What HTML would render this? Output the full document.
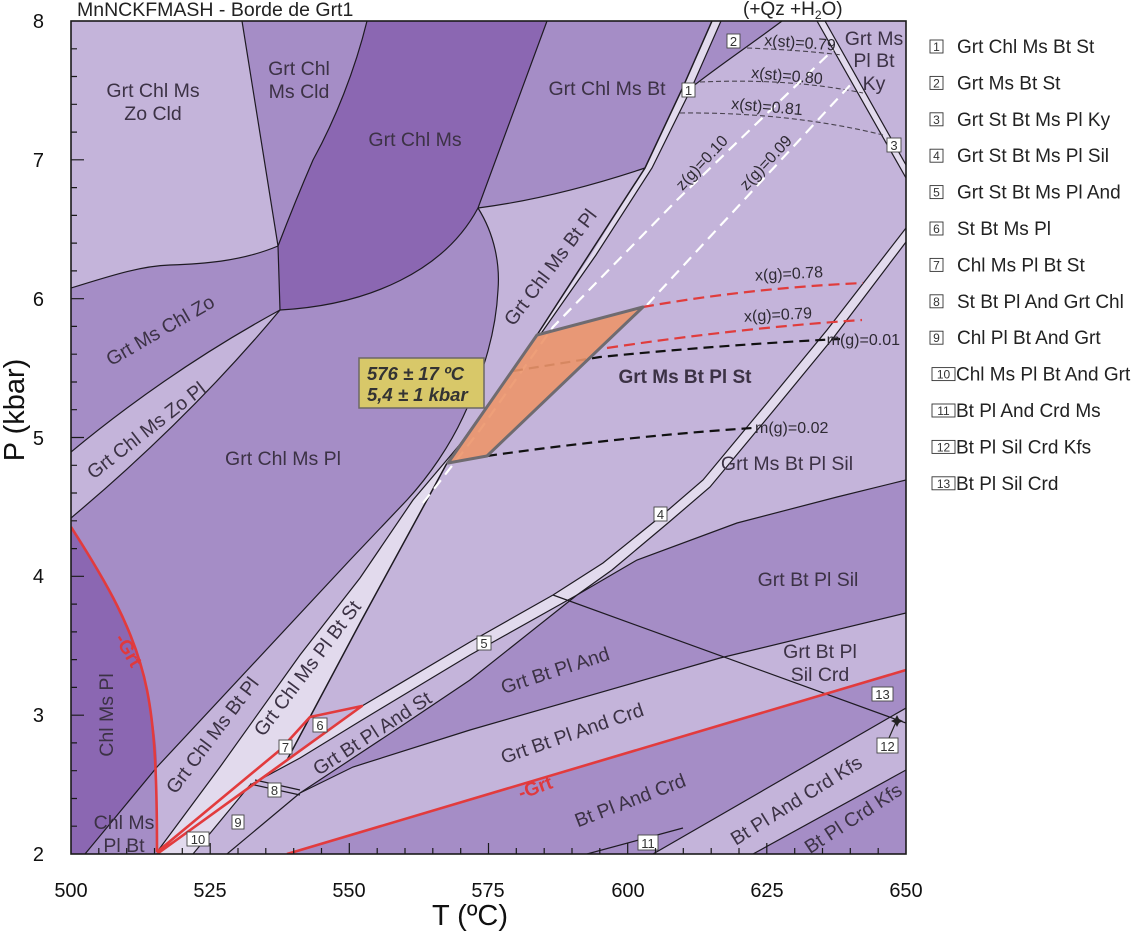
<!DOCTYPE html>
<html><head><meta charset="utf-8"><style>html,body{margin:0;padding:0;background:#fff}svg{display:block}</style></head>
<body>
<svg width="1141" height="931" viewBox="0 0 1141 931" xmlns="http://www.w3.org/2000/svg" font-family="'Liberation Sans', Arial, sans-serif">
<defs><clipPath id="pc"><rect x="71" y="21" width="835" height="833"/></clipPath></defs>
<rect width="1141" height="931" fill="#fff"/>
<g clip-path="url(#pc)">
<rect x="71" y="21" width="835" height="833" fill="#c4b4da"/>
<!-- medium / dark regions -->
<path fill="#a58dc6" d="M242,21 L367,21 C355,70 335,120 313,160 C300,190 288,220 278,246 Z"/>
<path fill="#8b67b2" d="M367,21 L547,21 L478,208 C445,270 370,305 280,310 L278,246 C288,220 300,190 313,160 C335,120 355,70 367,21 Z"/>
<path fill="#a58dc6" d="M547,21 L712,21 L683,87 L645,168 Q555,198 478,208 Z"/>
<path fill="#a58dc6" d="M721,21 L782,21 C750,45 720,65 692,87 Z"/>
<path fill="#a58dc6" d="M71,288 C110,276 140,266 170,265 S240,262 278,246 L280,310 Q170,370 71,452 Z"/>
<path fill="#a58dc6" d="M71,518 Q190,418 280,310 C370,305 445,270 478,208 C495,235 500,265 498,290 C496,330 485,370 463,417 C450,445 430,475 407,500 L350,560 L157,767 L157,854 L71,854 Z"/>
<path fill="#8b67b2" d="M71,527 C105,580 135,630 147,690 C154,725 157,745 157,767 L85,854 L71,854 Z"/>
<path fill="#a58dc6" d="M300,793 L400,727 L470,680 L577,595 L637,560 L737,523 L837,497 L906,480 L906,613 L720,658 L470,730 L353,767 Z"/>
<path fill="#a58dc6" d="M287,854 L906,670 L906,708 L653,854 Z"/>
<path fill="#a58dc6" d="M753,854 L906,770 L906,854 Z"/>
<!-- very light bands -->
<g fill="#e2daed">
<path d="M157,852 L220,767 L300,655 L360,578 L413,500 L462,442 L447,463 L427,500 L360,623 L310,717 L280,750 Z"/>
<path d="M157,852 L280,750 L310,717 L287,760 L157,854 Z"/>
<path d="M157,854 L250,785 L193,854 Z"/>
<path d="M553,595 L470,642 L362,706 L250,785 L300,758 L362,720 L470,655 L577,595 Z"/>
<path d="M712,21 L721,21 L692,87 L652,168 L596,255 L540,335 L537,335 L591,255 L645,168 L683,87 Z"/>
<path d="M817,21 L825,21 L906,165 L906,178 Z"/>
<path d="M553,595 L603,563 L660,517 L703,480 L767,403 L827,330 L906,228 L906,242 L834,337 L774,410 L710,487 L668,523 L612,570 L577,595 Z"/>
</g>
<!-- boundaries -->
<g fill="none" stroke="#1e1a22" stroke-width="1.2">
<path d="M242,21 L278,246"/>
<path d="M71,288 C110,276 140,266 170,265 S240,262 278,246"/>
<path d="M367,21 C355,70 335,120 313,160 C300,190 288,220 278,246 L280,310"/>
<path d="M280,310 C370,305 445,270 478,208 L547,21"/>
<path d="M478,208 Q555,198 645,168"/>
<path d="M478,208 C495,235 500,265 498,290 C496,330 485,370 463,417 C450,445 430,475 407,500 L350,560 L157,767 L85,854"/>
<path d="M280,310 Q170,370 71,452"/>
<path d="M280,310 Q190,418 71,518"/>
<path d="M157,852 L220,767 L300,655 L360,578 L413,500 L462,442"/>
<path d="M712,21 L683,87 L645,168 L537,335 L447,463 L427,500 L360,623 L310,717 L287,760" stroke-width="1.5"/>
<path d="M721,21 L692,87 L652,168 L596,255 L540,335"/>
<path d="M692,87 C720,65 750,45 782,21"/>
<path d="M817,21 L906,178 M825,21 L906,165"/>
<path d="M553,595 L603,563 L660,517 L703,480 L767,403 L827,330 L906,228"/>
<path d="M577,595 L612,570 L668,523 L710,487 L774,410 L834,337 L906,242"/>
<path d="M553,595 L470,642 L362,706"/>
<path d="M577,595 L470,655 L362,720 L300,758 L250,785"/>
<path d="M300,793 L400,727 L470,680 L577,595"/>
<path d="M577,595 L637,560 L737,523 L837,497 L906,480"/>
<path d="M553,595 L906,723"/>
<path d="M300,793 L353,767 L470,730 L720,658 L906,613"/>
<path d="M653,854 L906,708"/>
<path d="M753,854 L906,770"/>
<path d="M587,854 L683,828"/>
<path d="M227,854 L300,793"/>
<path d="M193,854 L250,785"/>
<path d="M250,784 L300,795 M255,780 L300,790"/>
</g>
<!-- dashed isopleths -->
<g fill="none" stroke="#4a4450" stroke-width="1.1" stroke-dasharray="5,3">
<path d="M747,48 Q800,50 842,55"/>
<path d="M700,82 Q790,78 863,93"/>
<path d="M680,113 Q790,112 883,135"/>
</g>
<g fill="none" stroke="#ffffff" stroke-width="2.2" stroke-dasharray="11,7">
<path d="M423,503 L480,430 L553,327 L677,200 L833,50"/>
<path d="M647,305 L853,82"/>
</g>
<g fill="none" stroke="#e03c3c" stroke-width="2.2" stroke-dasharray="11,6">
<path d="M643,307 Q750,288 863,283"/>
<path d="M607,348 Q740,328 862,320"/>
</g>
<g fill="none" stroke="#111" stroke-width="2.2" stroke-dasharray="10,6">
<path d="M513,371 L600,357 Q720,345 840,339"/>
<path d="M487,456 Q620,437 752,428"/>
</g>
<!-- estimate polygon -->
<path d="M448,463 L487,456 L643,307 L537,335 Z" fill="#ec956a" fill-opacity="0.9" stroke="#6f6b70" stroke-width="3" stroke-linejoin="round"/>
<!-- red lines -->
<g fill="none" stroke="#e23b3d" stroke-width="2.6" stroke-linejoin="round">
<path d="M71,527 C105,580 135,630 147,690 C154,725 157,767 157,852"/>
<path d="M157,852 L280,750 L310,717 L362,706 L157,854"/>
<path d="M287,854 L906,670"/>
</g>
<!-- star + arrow for 12 -->
<path d="M889,738 L896,722" stroke="#222" stroke-width="1.2"/>
<path d="M897,715 L899,719 L903,721 L899,723 L897,727 L895,723 L891,721 L895,719 Z" fill="#222"/>
</g>

<!-- annotation box -->
<rect x="359" y="358" width="125" height="50" fill="#d8c869" stroke="#6d6866" stroke-width="1.5"/>
<g font-size="18.5" font-weight="bold" font-style="italic" fill="#333">
<text x="367" y="380">576 ± 17 ºC</text>
<text x="367" y="401">5,4 ± 1 kbar</text>
</g>

<!-- field labels -->
<g font-size="19.5" fill="#3c3245" text-anchor="middle">
<text x="153" y="97">Grt Chl Ms</text><text x="153" y="120">Zo Cld</text>
<text x="299" y="75">Grt Chl</text><text x="299" y="98">Ms Cld</text>
<text x="415" y="146">Grt Chl Ms</text>
<text x="607" y="95">Grt Chl Ms Bt</text>
<text x="874" y="45">Grt Ms</text><text x="874" y="67">Pl Bt</text><text x="874" y="90">Ky</text>
<text transform="translate(160,330) rotate(-30)" dy="7">Grt Ms Chl Zo</text>
<text transform="translate(146,430) rotate(-38)" dy="7">Grt Chl Ms Zo Pl</text>
<text x="283" y="465">Grt Chl Ms Pl</text>
<text transform="translate(106,715) rotate(-90)" dy="7">Chl Ms Pl</text>
<text x="124" y="829">Chl Ms</text><text x="124" y="852">Pl Bt</text>
<text transform="translate(212,735) rotate(-53)" dy="7">Grt Chl Ms Bt Pl</text>
<text transform="translate(307,668) rotate(-53)" dy="7">Grt Chl Ms Pl Bt St</text>
<text transform="translate(372,733) rotate(-33)" dy="7">Grt Bt Pl And St</text>
<text transform="translate(550,267) rotate(-53)" dy="7">Grt Chl Ms Bt Pl</text>
<text x="685" y="383" font-weight="bold" font-size="19">Grt Ms Bt Pl St</text>
<text x="787" y="470">Grt Ms Bt Pl Sil</text>
<text x="808" y="586">Grt Bt Pl Sil</text>
<text x="820" y="658">Grt Bt Pl</text><text x="820" y="681">Sil Crd</text>
<text transform="translate(555,670) rotate(-18)" dy="7">Grt Bt Pl And</text>
<text transform="translate(572,733) rotate(-19)" dy="7">Grt Bt Pl And Crd</text>
<text transform="translate(630,800) rotate(-21)" dy="7">Bt Pl And Crd</text>
<text transform="translate(796,800) rotate(-32)" dy="7">Bt Pl And Crd Kfs</text>
<text transform="translate(853,818) rotate(-33)" dy="7">Bt Pl Crd Kfs</text>
</g>
<g font-size="19" font-weight="bold" fill="#e0393d" text-anchor="middle">
<text transform="translate(129,650) rotate(60)" dy="7">-Grt</text>
<text transform="translate(535,787) rotate(-20)" dy="7">-Grt</text>
</g>
<!-- isopleth labels -->
<g font-size="16" fill="#2e2a33" text-anchor="middle">
<text transform="translate(800,43) rotate(4)" dy="5">x(st)=0.79</text>
<text transform="translate(787,76) rotate(5)" dy="5">x(st)=0.80</text>
<text transform="translate(767,107) rotate(5)" dy="5">x(st)=0.81</text>
<text transform="translate(702,163) rotate(-47)" dy="5">z(g)=0.10</text>
<text transform="translate(766,163) rotate(-47)" dy="5">z(g)=0.09</text>
<text transform="translate(789,274) rotate(-3)" dy="5">x(g)=0.78</text>
<text transform="translate(778,315) rotate(-3)" dy="5">x(g)=0.79</text>
<text x="900" y="345" text-anchor="end">m(g)=0.01</text>
<text x="755" y="433" text-anchor="start">m(g)=0.02</text>
</g>
<!-- number boxes -->
<g font-size="13" fill="#333" text-anchor="middle">
<g stroke="#444" stroke-width="0.9" fill="#fff">
<rect x="682" y="83" width="13" height="14"/>
<rect x="727" y="34" width="13" height="14"/>
<rect x="887" y="138" width="14" height="14"/>
<rect x="654" y="507" width="13" height="14"/>
<rect x="477" y="636" width="14" height="14"/>
<rect x="313" y="718" width="14" height="14"/>
<rect x="279" y="740" width="13" height="14"/>
<rect x="268" y="783" width="13" height="14"/>
<rect x="232" y="815" width="12" height="14"/>
<rect x="187" y="832" width="22" height="14"/>
<rect x="638" y="835" width="20" height="15"/>
<rect x="877" y="738" width="21" height="15"/>
<rect x="872" y="687" width="21" height="14"/>
</g>
<text x="688.5" y="95">1</text>
<text x="733.5" y="46">2</text>
<text x="894" y="150">3</text>
<text x="660.5" y="519">4</text>
<text x="484" y="648">5</text>
<text x="320" y="730">6</text>
<text x="285.5" y="752">7</text>
<text x="274.5" y="795">8</text>
<text x="238" y="827">9</text>
<text x="198" y="844">10</text>
<text x="648" y="848">11</text>
<text x="887.5" y="751">12</text>
<text x="882.5" y="699">13</text>
</g>

<!-- frame and ticks -->
<rect x="71" y="21" width="835" height="833" fill="none" stroke="#1a1a1a" stroke-width="1.6"/>
<path fill="none" stroke="#1a1a1a" stroke-width="1.2" d="
M71,826.2h6 M71,798.5h6 M71,770.7h6 M71,742.9h6 M71,715.2h13
M71,687.4h6 M71,659.6h6 M71,631.9h6 M71,604.1h6 M71,576.3h13
M71,548.6h6 M71,520.8h6 M71,493h6 M71,465.3h6 M71,437.5h13
M71,409.7h6 M71,382h6 M71,354.2h6 M71,326.4h6 M71,298.7h13
M71,270.9h6 M71,243.1h6 M71,215.4h6 M71,187.6h6 M71,159.8h13
M71,132.1h6 M71,104.3h6 M71,76.5h6 M71,48.8h6
M98.8,854v-6 M126.7,854v-6 M154.5,854v-6 M182.3,854v-6 M210.2,854v-11
M238,854v-6 M265.8,854v-6 M293.7,854v-6 M321.5,854v-6 M349.3,854v-11
M377.2,854v-6 M405,854v-6 M432.8,854v-6 M460.7,854v-6 M488.5,854v-11
M516.3,854v-6 M544.2,854v-6 M572,854v-6 M599.8,854v-6 M627.7,854v-11
M655.5,854v-6 M683.3,854v-6 M711.2,854v-6 M739,854v-6 M766.8,854v-11
M794.7,854v-6 M822.5,854v-6 M850.3,854v-6 M878.2,854v-6"/>
<g font-size="20" fill="#111" text-anchor="end">
<text x="44" y="28">8</text>
<text x="44" y="167">7</text>
<text x="44" y="306">6</text>
<text x="44" y="445">5</text>
<text x="44" y="583">4</text>
<text x="44" y="722">3</text>
<text x="44" y="861">2</text>
</g>
<g font-size="20" fill="#111" text-anchor="middle">
<text x="71" y="897">500</text>
<text x="210" y="897">525</text>
<text x="349" y="897">550</text>
<text x="488" y="897">575</text>
<text x="628" y="897">600</text>
<text x="767" y="897">625</text>
<text x="906" y="897">650</text>
</g>
<text x="470" y="925" font-size="29" fill="#111" text-anchor="middle">T (ºC)</text>
<text transform="translate(24,410) rotate(-90)" font-size="29" fill="#111" text-anchor="middle">P (kbar)</text>
<text x="77" y="16" font-size="19.5" fill="#222">MnNCKFMASH - Borde de Grt1</text>
<text x="743" y="15" font-size="19" fill="#222">(+Qz +H<tspan font-size="12" dy="4">2</tspan><tspan dy="-4">O)</tspan></text>

<!-- legend -->
<g font-size="19" fill="#222">
<g stroke="#333" stroke-width="0.9" fill="#fff">
<rect x="930" y="40" width="13" height="13"/>
<rect x="930" y="76.4" width="13" height="13"/>
<rect x="930" y="112.8" width="13" height="13"/>
<rect x="930" y="149.2" width="13" height="13"/>
<rect x="930" y="185.6" width="13" height="13"/>
<rect x="930" y="222" width="13" height="13"/>
<rect x="930" y="258.4" width="13" height="13"/>
<rect x="930" y="294.8" width="13" height="13"/>
<rect x="930" y="331.2" width="13" height="13"/>
<rect x="932" y="367.6" width="23" height="13"/>
<rect x="932" y="404" width="23" height="13"/>
<rect x="932" y="440.4" width="23" height="13"/>
<rect x="932" y="476.8" width="23" height="13"/>
</g>
<g font-size="12" fill="#333" text-anchor="middle">
<text x="936.5" y="51">1</text><text x="936.5" y="87.4">2</text><text x="936.5" y="123.8">3</text>
<text x="936.5" y="160.2">4</text><text x="936.5" y="196.6">5</text><text x="936.5" y="233">6</text>
<text x="936.5" y="269.4">7</text><text x="936.5" y="305.8">8</text><text x="936.5" y="342.2">9</text>
<text x="943.5" y="378.6">10</text><text x="943.5" y="415">11</text><text x="943.5" y="451.4">12</text><text x="943.5" y="487.8">13</text>
</g>
<text x="957" y="53">Grt Chl Ms Bt St</text>
<text x="957" y="89.4">Grt Ms Bt St</text>
<text x="957" y="125.8">Grt St Bt Ms Pl Ky</text>
<text x="957" y="162.2">Grt St Bt Ms Pl Sil</text>
<text x="957" y="198.6">Grt St Bt Ms Pl And</text>
<text x="957" y="235">St Bt Ms Pl</text>
<text x="957" y="271.4">Chl Ms Pl Bt St</text>
<text x="957" y="307.8">St Bt Pl And Grt Chl</text>
<text x="957" y="344.2">Chl Pl Bt And Grt</text>
<text x="956" y="380.6">Chl Ms Pl Bt And Grt</text>
<text x="956" y="417">Bt Pl And Crd Ms</text>
<text x="956" y="453.4">Bt Pl Sil Crd Kfs</text>
<text x="956" y="489.8">Bt Pl Sil Crd</text>
</g>
</svg>
</body></html>
